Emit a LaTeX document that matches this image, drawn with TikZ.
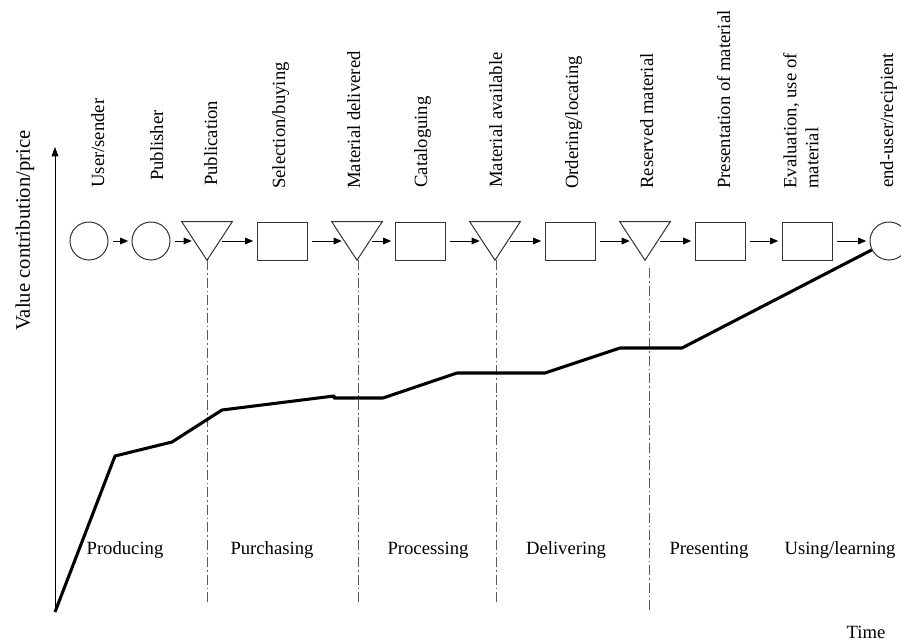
\documentclass[tikz,border=0pt]{standalone}
\usepackage{fontspec}
\setmainfont{Liberation Serif}
\usetikzlibrary{arrows.meta}
\begin{document}
\begin{tikzpicture}[x=0.75pt,y=-0.75pt,
  every node/.style={font=\fontsize{14pt}{16.5pt}\selectfont},
  shp/.style={draw=black!80, line width=0.75pt, inner sep=0pt},
  circ/.style={shp, circle, minimum size=28.5pt},
  boxx/.style={shp, rectangle, minimum width=37.5pt, minimum height=28.5pt},
  tri/.style={rectangle, inner sep=0pt, minimum width=37.5pt, minimum height=28.5pt},
  arr/.style={-{Triangle[length=6pt,width=5pt]}, line width=0.75pt, shorten <=3.5pt, shorten >=2.5pt},
  intri/.style={shorten >=-7.5pt},
  outtri/.style={shorten <=-7.5pt},
  lbl/.style={rotate=90, anchor=base west, inner sep=0pt},
  phase/.style={anchor=base, inner sep=0pt},
  dd/.style={draw=black!65, line width=0.75pt, dash pattern=on 7.5pt off 2.2pt on 1.2pt off 2.2pt},
  value/.style={line width=2.3pt, line join=round}
]
\useasboundingbox (0,0) rectangle (901,642);

% axis
\coordinate (o) at (55,612);
\coordinate (ytop) at (55,147);
\draw[line width=0.75pt, -{Triangle[length=7pt,width=5pt]}] (o) -- (ytop);
\node[rotate=90, anchor=base west, inner sep=0pt, font=\fontsize{15.5pt}{18pt}\selectfont] (ylab) at (30,331) {Value contribution/price};
\node[phase] (time) at (866,638) {Time};

% process shapes
\node[circ] (c1) at (89,241) {};
\node[circ] (c2) at (151,241) {};
\node[tri]  (t1) at (207,241) {};
\node[boxx] (b1) at (282,241) {};
\node[tri]  (t2) at (357,241) {};
\node[boxx] (b2) at (420,241) {};
\node[tri]  (t3) at (495,241) {};
\node[boxx] (b3) at (570,241) {};
\node[tri]  (t4) at (645,241) {};
\node[boxx] (b4) at (720,241) {};
\node[boxx] (b5) at (807,241) {};
\node[circ] (e)  at (889,241) {};
\foreach \t in {t1,t2,t3,t4}
  \draw[draw=black!80, line width=0.75pt, line join=miter] (\t.north west) -- (\t.north east) -- (\t.south) -- cycle;

% connectors
\draw[arr] (c1) -- (c2);
\draw[arr, intri] (c2) -- (t1);
\draw[arr, outtri] (t1) -- (b1);
\draw[arr, intri] (b1) -- (t2);
\draw[arr, outtri] (t2) -- (b2);
\draw[arr, intri] (b2) -- (t3);
\draw[arr, outtri] (t3) -- (b3);
\draw[arr, intri] (b3) -- (t4);
\draw[arr, outtri] (t4) -- (b4);
\draw[arr] (b4) -- (b5);
\draw[arr] (b5) -- (e);

% dash-dot phase dividers
\draw[dd] (t1.south) -- ++(0,342);
\draw[dd] ([xshift=0.75pt]t2.south) -- ++(0,343);
\draw[dd] ([xshift=0.75pt]t3.south) -- ++(0,343);
\draw[dd] ([xshift=3pt,yshift=-6pt]t4.south) -- ++(0,343);

% labels above shapes
\node[lbl] (l1) at (104,188) {User/sender};
\node[lbl] (l2) at (163,181) {Publisher};
\node[lbl] (l3) at (217,186) {Publication};
\node[lbl] (l4) at (285,189) {Selection/buying};
\node[lbl] (l5) at (360,189) {Material delivered};
\node[lbl] (l6) at (427,188) {Cataloguing};
\node[lbl] (l7) at (502,188) {Material available};
\node[lbl] (l8) at (578,189) {Ordering/locating};
\node[lbl] (l9) at (653,189) {Reserved material};
\node[lbl] (l10) at (730,189) {Presentation of material};
\node[rotate=90, anchor=north west, inner sep=0pt, align=left] (l11) at (783,189) {Evaluation, use of\\material};
\node[lbl] (l12) at (893,188) {end-user/recipient};

% value curve
\draw[value] (o) -- (115,456) -- (172,442) -- (222,410) -- (334,396) -- (334,398)
  -- (383,398) -- (457,373) -- (545,373) -- (620,348) -- (682,348) -- (e);

% phase labels
\node[phase] (p1) at (125,554) {Producing};
\node[phase] (p2) at (272,554) {Purchasing};
\node[phase] (p3) at (428,554) {Processing};
\node[phase] (p4) at (566,554) {Delivering};
\node[phase] (p5) at (709,554) {Presenting};
\node[phase] (p6) at (840,554) {Using/learning};
\end{tikzpicture}
\end{document}
